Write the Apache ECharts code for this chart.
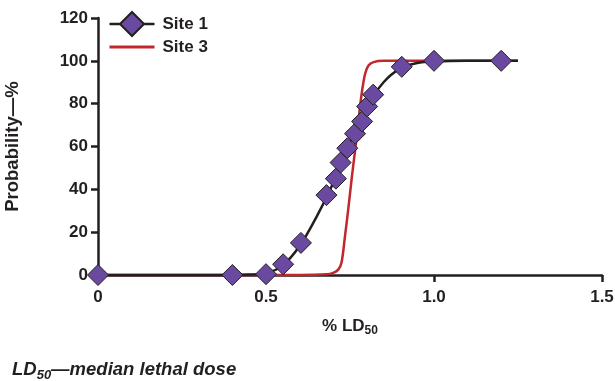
<!DOCTYPE html>
<html>
<head>
<meta charset="utf-8">
<script src="https://cdn.jsdelivr.net/npm/echarts@6/dist/echarts.min.js"></script>
<style>
  html, body { margin: 0; padding: 0; background: #fff; }
  #chart { width: 615px; height: 381px; }
</style>
</head>
<body>
<div id="chart"></div>
<script>
// Site 1 observations: dose as fraction of LD50, probability in percent
const site1Dose = [0, 0.40, 0.50, 0.551, 0.604, 0.680, 0.708, 0.722, 0.742, 0.765, 0.786, 0.801, 0.819, 0.904, 1.00, 1.20];
const site1Prob = [0, 0, 0.4, 5, 15, 37.3, 45, 52.5, 59.2, 66, 71.7, 78.7, 84.2, 97.2, 100, 100];

// Fitted curve for Site 1
const site1FitDose = [0, 0.40, 0.45, 0.50, 0.55, 0.60, 0.65, 0.70, 0.75, 0.80, 0.85, 0.90, 0.95, 1.00, 1.10, 1.25];
const site1FitProb = [0, 0, 0.2, 0.8, 4.5, 13.5, 27, 43, 62, 78.5, 90, 96.5, 99, 99.7, 100, 100];

// Fitted curve for Site 3
const site3Dose = [0, 0.60, 0.68, 0.70, 0.715, 0.725, 0.735, 0.745, 0.755, 0.765, 0.775, 0.785, 0.795, 0.805, 0.82, 0.85, 1.00, 1.25];
const site3Prob = [0, 0, 0.3, 1, 2.5, 6, 18, 31, 45, 58, 72, 85, 94, 97.8, 99.4, 100, 100, 100];

const xTickLabels = { 0: '0', 0.5: '0.5', 1: '1.0', 1.5: '1.5' };

const ink = '#231f20';
const purple = '#6a4aa0';
const red = '#c1272d';
const font = 'Liberation Sans, Arial, Helvetica, sans-serif';

const pairs = (xs, ys) => xs.map((x, i) => [x, ys[i]]);

const chart = echarts.init(document.getElementById('chart'), null, { renderer: 'canvas' });

chart.setOption({
  animation: false,
  backgroundColor: '#fff',
  grid: { left: 98, right: 13, top: 18, bottom: 106, containLabel: false, outerBoundsMode: 'none' },
  legend: {
    orient: 'vertical',
    left: 103,
    top: 6,
    itemWidth: 45,
    itemHeight: 30,
    itemGap: -2,
    textStyle: { fontFamily: font, fontWeight: 'bold', fontSize: 17, color: ink, padding: [0, 0, 0, 3] },
    data: [
      { name: 'Site 1', lineStyle: { color: ink, width: 2.5, opacity: 1 } },
      { name: 'Site 3', lineStyle: { width: 3 }, itemStyle: { opacity: 0 } }
    ]
  },
  xAxis: {
    type: 'value',
    min: 0,
    max: 1.5,
    interval: 0.5,
    name: '{a|% LD}{s|50}',
    nameLocation: 'middle',
    nameGap: 40,
    nameTextStyle: {
      rich: {
        a: { fontFamily: font, fontWeight: 'bold', fontSize: 17, color: ink },
        s: { fontFamily: font, fontWeight: 'bold', fontSize: 12, color: ink, verticalAlign: 'bottom', padding: [10, 0, 0, 0] }
      }
    },
    axisLine: { show: true, lineStyle: { color: ink, width: 2.5 } },
    axisTick: { show: true, length: 7, lineStyle: { color: ink, width: 2.5 } },
    axisLabel: {
      margin: 14,
      fontFamily: font, fontWeight: 'bold', fontSize: 17, color: ink,
      formatter: v => xTickLabels[v] !== undefined ? xTickLabels[v] : ''
    },
    splitLine: { show: false }
  },
  yAxis: {
    type: 'value',
    min: 0,
    max: 120,
    interval: 20,
    name: 'Probability\u2014%',
    nameLocation: 'middle',
    nameGap: 76,
    nameRotate: 90,
    nameTextStyle: { fontFamily: font, fontWeight: 'bold', fontSize: 18.5, color: ink },
    axisLine: { show: true, lineStyle: { color: ink, width: 2.5 } },
    axisTick: { show: true, length: 7, lineStyle: { color: ink, width: 2.5 } },
    axisLabel: { margin: 10, fontFamily: font, fontWeight: 'bold', fontSize: 17, color: ink },
    splitLine: { show: false }
  },
  series: [
    {
      name: 'Site 3',
      type: 'line',
      data: pairs(site3Dose, site3Prob),
      smooth: 0.3,
      symbol: 'none',
      clip: false,
      lineStyle: { color: red, width: 2.5 },
      itemStyle: { color: red },
      z: 2
    },
    {
      name: 'Site 1 fit',
      type: 'line',
      data: pairs(site1FitDose, site1FitProb),
      smooth: 0.3,
      symbol: 'none',
      clip: false,
      lineStyle: { color: ink, width: 2.5 },
      z: 3
    },
    {
      name: 'Site 1',
      type: 'line',
      data: pairs(site1Dose, site1Prob),
      symbol: 'diamond',
      symbolSize: 21,
      showAllSymbol: true,
      clip: false,
      lineStyle: { color: ink, width: 2.5, opacity: 0 },
      itemStyle: { color: purple, borderColor: ink, borderWidth: 1 },
      z: 4
    }
  ],
  graphic: [
    {
      type: 'text',
      left: 12,
      top: 360,
      style: {
        text: '{a|LD}{s|50}{a|\u2014median lethal dose}',
        rich: {
          a: { fontFamily: font, fontWeight: 'bold', fontStyle: 'italic', fontSize: 18.5, fill: ink },
          s: { fontFamily: font, fontWeight: 'bold', fontStyle: 'italic', fontSize: 13, fill: ink, verticalAlign: 'bottom', padding: [11, 0, 0, 0] }
        }
      }
    }
  ]
});
</script>
</body>
</html>
